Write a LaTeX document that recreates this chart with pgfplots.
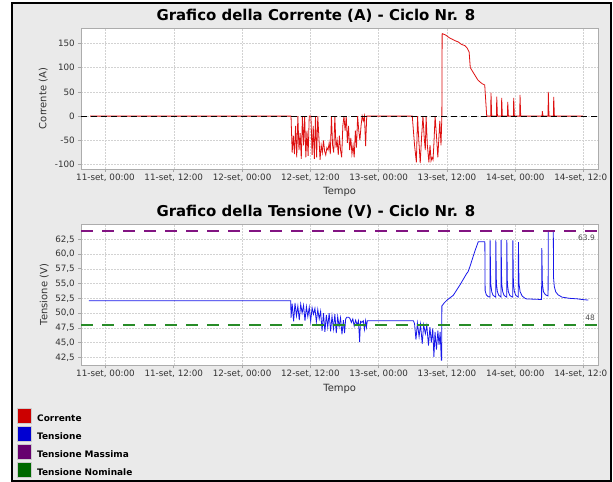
\documentclass[border=0pt]{standalone}
\usepackage{fontspec}
\setmainfont{DejaVu Sans}
\usepackage{pgfplots}
\pgfplotsset{compat=1.18}
\usepackage{pgfplotstable}

\definecolor{bgg}{RGB}{234,234,234}
\definecolor{cred}{RGB}{222,16,16}
\definecolor{cblue}{RGB}{24,24,235}
\definecolor{cpurple}{RGB}{130,20,130}
\definecolor{cgreen}{RGB}{40,140,40}
\definecolor{lred}{RGB}{204,0,0}
\definecolor{lblue}{RGB}{0,0,210}
\definecolor{lpurple}{RGB}{102,0,110}
\definecolor{lgreen}{RGB}{0,104,0}

\pgfplotstableread{
h I
-2.7 0
32.6 0
32.8 -75
33.0 -40
33.2 -78
33.4 -20
33.6 -85
33.8 0
34.0 -70
34.2 -35
34.4 -88
34.6 0
34.8 -60
35.0 0
35.2 -85
35.4 -30
35.6 -82
35.8 0
36.1 0
36.3 -80
36.5 -20
36.7 -88
36.9 0
37.1 -85
37.3 0
37.5 -45
37.7 -90
37.9 -60
38.1 -75
38.3 -50
38.5 -72
38.7 -80
38.9 -65
39.1 -70
39.3 -55
39.5 -78
39.7 0
39.9 -60
40.1 -75
40.3 0
40.5 -65
40.7 -50
40.9 -80
41.1 -40
41.3 -70
41.5 -85
41.7 -20
41.9 0
42.1 -30
42.3 0
42.5 -55
42.7 -20
42.9 -70
43.1 -45
43.3 -78
43.5 -60
43.7 -85
43.9 -30
44.1 -65
44.3 0
44.5 -30
44.7 -50
44.9 -20
45.1 0
45.3 -10
45.5 0
45.7 -62
45.9 0
46.3 0
53.9 0
54.3 -60
54.62 -95
54.83 0
55.05 -50
55.3 -97
55.55 -40
55.78 0
56.0 -45
56.19 -70
56.33 0
56.55 -60
56.82 -95
57.02 -60
57.2 -92
57.37 -85
57.55 -90
57.71 -55
57.91 0
58.15 -40
58.39 -85
58.55 -50
58.74 -10
58.95 -60
59.1 0
59.15 170
59.77 167
60.46 161
61.0 158
61.48 155
61.94 153
62.51 148
63.17 145
63.55 140
63.89 132
64.09 100
64.5 92
64.92 84
65.45 74
65.94 69
66.15 67
66.63 64
66.98 0
67.68 0
67.73 48.6
67.85 0
68.69 0
68.74 40
68.86 0
69.56 0
69.61 37.7
69.73 0
70.62 0
70.67 29.4
70.79 0
71.67 0
71.72 37.7
71.84 0
72.78 0
72.83 43.8
72.95 0
76.70 0
76.75 10
76.87 0
77.75 0
77.80 50
77.92 0
78.70 0
78.75 39.7
78.87 0
83.9 0
}\corrente

\pgfplotstableread{
h V
-2.9 52.1
32.55 52.1
32.6 49.2
32.8 51.6
33.05 48.6
33.3 51.7
33.55 49.5
33.8 51.2
34.05 48.8
34.3 51.5
34.55 50.0
34.8 51.3
35.05 48.7
35.3 51.1
35.55 49.4
35.8 51.0
36.05 48.6
36.3 50.9
36.55 49.8
36.8 50.8
37.05 48.5
37.3 50.6
37.55 49.0
37.8 50.3
38.05 47.0
38.3 50.0
38.55 46.8
38.8 49.7
39.05 47.6
39.3 50.0
39.55 46.9
39.8 49.5
40.05 47.3
40.3 49.8
40.55 46.6
40.8 49.4
41.05 47.7
41.3 49.2
41.55 46.4
41.8 48.8
42.0 46.6
42.2 49.0
42.4 49.3
42.7 49.3
42.95 49.1
43.2 48.4
43.45 49.0
43.7 47.8
43.95 48.8
44.2 48.0
44.45 48.7
44.65 45.1
44.8 48.6
45.05 48.4
45.3 48.7
45.5 47.2
45.7 48.7
45.85 47.6
46.0 48.7
54.1 48.7
54.3 48.2
54.55 45.5
54.8 48.3
55.1 46.0
55.35 48.1
55.65 44.8
55.9 48.0
56.2 46.5
56.45 47.9
56.75 44.5
57.0 47.6
57.25 45.0
57.5 47.4
57.7 42.6
57.9 46.8
58.15 43.8
58.4 47.0
58.6 44.6
58.8 46.8
59.0 42.0
59.07 42.0
59.1 51.2
59.5 51.7
60.0 52.2
61.1 53.0
62.3 54.8
63.46 56.7
63.7 57.0
64.04 57.9
64.9 60.5
65.5 62.1
66.65 62.1
66.7 53.8
66.9 53.1
67.2 52.8
67.56 52.7
67.58 62.3
67.68 55.0
67.86 53.6
68.1 53.0
68.4 52.8
68.56 52.7
68.58 62.3
68.68 55.0
68.86 53.6
69.1 53.0
69.4 52.8
69.49 52.7
69.51 62.4
69.61 55.0
69.79 53.6
70.03 53.0
70.3 52.8
70.49 52.7
70.51 62.4
70.61 55.0
70.79 53.6
71.03 53.0
71.3 52.8
71.55 52.7
71.57 62.3
71.67 55.0
71.85 53.6
72.1 53.0
72.35 52.8
72.53 52.7
72.55 62.0
72.65 55.0
72.85 53.6
73.2 52.9
73.7 52.5
74.0 52.4
76.62 52.3
76.66 61.0
76.76 55.0
76.95 53.6
77.3 53.1
77.76 52.9
77.8 63.9
78.68 63.9
78.72 56.0
78.85 54.5
79.1 53.6
79.5 53.1
80.2 52.7
81.5 52.5
83.0 52.4
83.7 52.3
84.83 52.2
}\tensione

\pgfplotsset{
  common/.style={
    scale only axis,
    anchor=south west,
    width=517.5bp,
    xmin=-4.3, xmax=86.62,
    axis background/.style={fill=white},
    axis line style={gray!65, line width=0.6bp},
    tick style={gray!70, line width=0.6bp},
    tick align=outside,
    tick pos=left,
    major tick length=3bp,
    grid=major,
    major grid style={gray!35, line width=0.4bp, dash pattern=on 1.5bp off 1.5bp},
    xtick={0,12,24,36,48,60,72,84},
    xticklabels={{11-set, 00:00},{11-set, 12:00},{12-set, 00:00},{12-set, 12:00},{13-set, 00:00},{13-set, 12:00},{14-set, 00:00},{14-set, 12:0\phantom{0}}},
    /pgf/number format/assume math mode=true,
    ticklabel style={font=\fontsize{8.8}{10}\selectfont, text=black!80},
    xticklabel style={inner sep=0pt},
    yticklabel style={inner sep=0pt},
    xticklabel shift=1.5bp,
    yticklabel shift=3bp,
    label style={font=\fontsize{10}{12}\selectfont, text=black!80},
    every axis title shift=0pt,
    title style={font=\bfseries\fontsize{15}{18}\selectfont, anchor=base, inner sep=0pt},
  }
}

\begin{document}
\begin{tikzpicture}
\path[use as bounding box] (0,0) rectangle (613bp,482bp);
\fill[white] (0,0) rectangle (613bp,482bp);
\filldraw[fill=bgg, draw=black, line width=1.5bp] (12bp,1bp) rectangle (611bp,479bp);

\begin{axis}[common,
  at={(81bp,313bp)},
  height=141bp,
  ymin=-108.9, ymax=181.5,
  ytick={-100,-50,0,50,100,150},
  title={Grafico della Corrente (A) - Ciclo Nr. 8},
  title style={at={(axis description cs:0.454,1.0532)}},
  xlabel={Tempo},
  xlabel style={at={(axis description cs:0.5,-0.1787)}, anchor=base},
  ylabel={Corrente (A)},
  ylabel style={at={(axis description cs:-0.0729,0.5)}, anchor=center},
]
\addplot[cred, line width=0.8bp] table[x=h, y=I] {\corrente};
\addplot[black, line width=0.8bp, dash pattern=on 6bp off 4bp] coordinates {(-4.3,0) (86.62,0)};
\end{axis}

\begin{axis}[common,
  at={(81bp,117bp)},
  height=140.7bp,
  ymin=41.2, ymax=65.04,
  ytick={42.5,45,47.5,50,52.5,55,57.5,60,62.5},
  yticklabel style={/pgf/number format/.cd, fixed, fixed zerofill, precision=1, use comma},
  title={Grafico della Tensione (V) - Ciclo Nr. 8},
  title style={at={(axis description cs:0.454,1.0533)}},
  xlabel={Tempo},
  xlabel style={at={(axis description cs:0.5,-0.1862)}, anchor=base},
  ylabel={Tensione (V)},
  ylabel style={at={(axis description cs:-0.0711,0.5)}, anchor=center},
  legend style={at={(axis description cs:-0.1243,-0.3035)}, anchor=north west,
    draw=none, fill=none, inner sep=0pt, outer sep=0pt,
    font=\bfseries\fontsize{9}{10}\selectfont, row sep=2.5bp, column sep=6bp,
    nodes={inner sep=0pt}},
  legend cell align=left,
  legend image code/.code={\draw[#1, draw=gray!40, line width=0.5bp] (0bp,-4.2bp) rectangle (14bp,10.8bp);},
]
\addplot[cblue, line width=0.8bp, forget plot] table[x=h, y=V] {\tensione};
\addplot[cpurple, line width=2.5bp, dash pattern=on 12bp off 9bp, forget plot] coordinates {(-4.3,63.9) (86.62,63.9)};
\addplot[cgreen, line width=2.5bp, dash pattern=on 12bp off 9bp, forget plot] coordinates {(-4.3,48) (86.62,48)};
\node[anchor=north east, inner sep=0pt, font=\fontsize{7.5}{8}\selectfont, text=black!70] at (axis cs:86.0,63.3) {63.9};
\node[anchor=south east, inner sep=0pt, font=\fontsize{7.5}{8}\selectfont, text=black!70] at (axis cs:86.0,48.65) {48};
\addlegendimage{fill=lred}
\addlegendentry{Corrente}
\addlegendimage{fill=lblue}
\addlegendentry{Tensione}
\addlegendimage{fill=lpurple}
\addlegendentry{Tensione Massima}
\addlegendimage{fill=lgreen}
\addlegendentry{Tensione Nominale}
\end{axis}
\end{tikzpicture}
\end{document}
